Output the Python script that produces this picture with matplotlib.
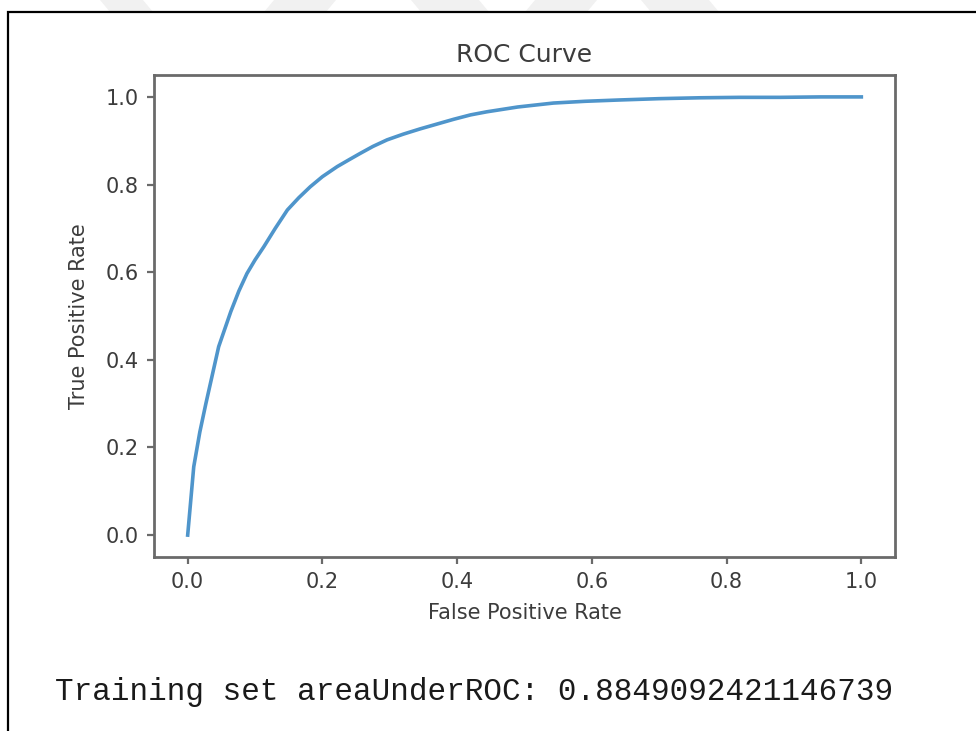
import matplotlib
matplotlib.use("Agg")
import matplotlib.pyplot as plt
from matplotlib.patches import Rectangle, Polygon

# ROC curve values
fpr = [0.0, 0.009, 0.018, 0.027, 0.046, 0.064, 0.076, 0.088, 0.100, 0.113, 0.130,
       0.148, 0.165, 0.182, 0.200, 0.222, 0.240, 0.256, 0.275, 0.296, 0.320,
       0.345, 0.370, 0.395, 0.420, 0.444, 0.490, 0.543, 0.590, 0.641, 0.700,
       0.760, 0.820, 0.880, 0.940, 1.0]
tpr = [0.0, 0.156, 0.235, 0.300, 0.430, 0.510, 0.557, 0.597, 0.628, 0.658, 0.700,
       0.742, 0.770, 0.795, 0.818, 0.841, 0.857, 0.871, 0.887, 0.902, 0.915,
       0.927, 0.938, 0.949, 0.959, 0.966, 0.977, 0.986, 0.990, 0.993, 0.996,
       0.998, 0.999, 0.999, 1.0, 1.0]
xticks = [0.0, 0.2, 0.4, 0.6, 0.8, 1.0]
yticks = [0.0, 0.2, 0.4, 0.6, 0.8, 1.0]
title = "ROC Curve"
xlabel = "False Positive Rate"
ylabel = "True Positive Rate"
caption = "Training set areaUnderROC: 0.8849092421146739"

W, H = 976, 731
fig = plt.figure(figsize=(W / 100, H / 100), dpi=100)
fig.patch.set_facecolor("white")

# faint watermark bands at the very top
bands = [(100, 143), (274, 336), (411, 479), (535, 597), (641, 709)]
for i, (a, b) in enumerate(bands):
    s = 10 if i % 2 == 0 else -10
    poly = Polygon([(a / W, 1.0), (b / W, 1.0), ((b + s) / W, 1 - 12 / H), ((a + s) / W, 1 - 12 / H)],
                   closed=True, transform=fig.transFigure, facecolor="#f1f1f1", edgecolor="none", zorder=0)
    fig.patches.append(poly)

# black screenshot frame
frame = Rectangle((8 / W, -0.05), 1.2, 1 - 12 / H + 0.05, transform=fig.transFigure,
                  fill=False, edgecolor="black", linewidth=1.6, zorder=1)
fig.patches.append(frame)

ax = fig.add_axes([154 / W, 1 - 557 / H, (895 - 154) / W, (557 - 75) / H])
ax.plot(fpr, tpr, color="#4f95cb", linewidth=2.6, solid_joinstyle="round")
ax.set_xlim(-0.05, 1.05)
ax.set_ylim(-0.05, 1.05)
ax.set_xticks(xticks)
ax.set_yticks(yticks)
ax.set_xticklabels([f"{t:.1f}" for t in xticks])
ax.set_yticklabels([f"{t:.1f}" for t in yticks])

txtc = "#3c3c3c"
for sp in ax.spines.values():
    sp.set_color("#6a6a6a")
    sp.set_linewidth(2.0)
ax.tick_params(axis="both", colors="#6a6a6a", labelcolor=txtc, labelsize=15,
               length=5, width=1.6, pad=6)
ax.set_title(title, fontsize=18, color=txtc, pad=9)
ax.set_xlabel(xlabel, fontsize=15, color=txtc, labelpad=8)
ax.set_ylabel(ylabel, fontsize=15, color=txtc, labelpad=12)

fig.text(55 / W, 1 - 700 / H, caption, family="Liberation Mono", fontsize=22.3,
         color="#1a1a1a", va="baseline", ha="left")

fig.savefig("out.png", dpi=100)
